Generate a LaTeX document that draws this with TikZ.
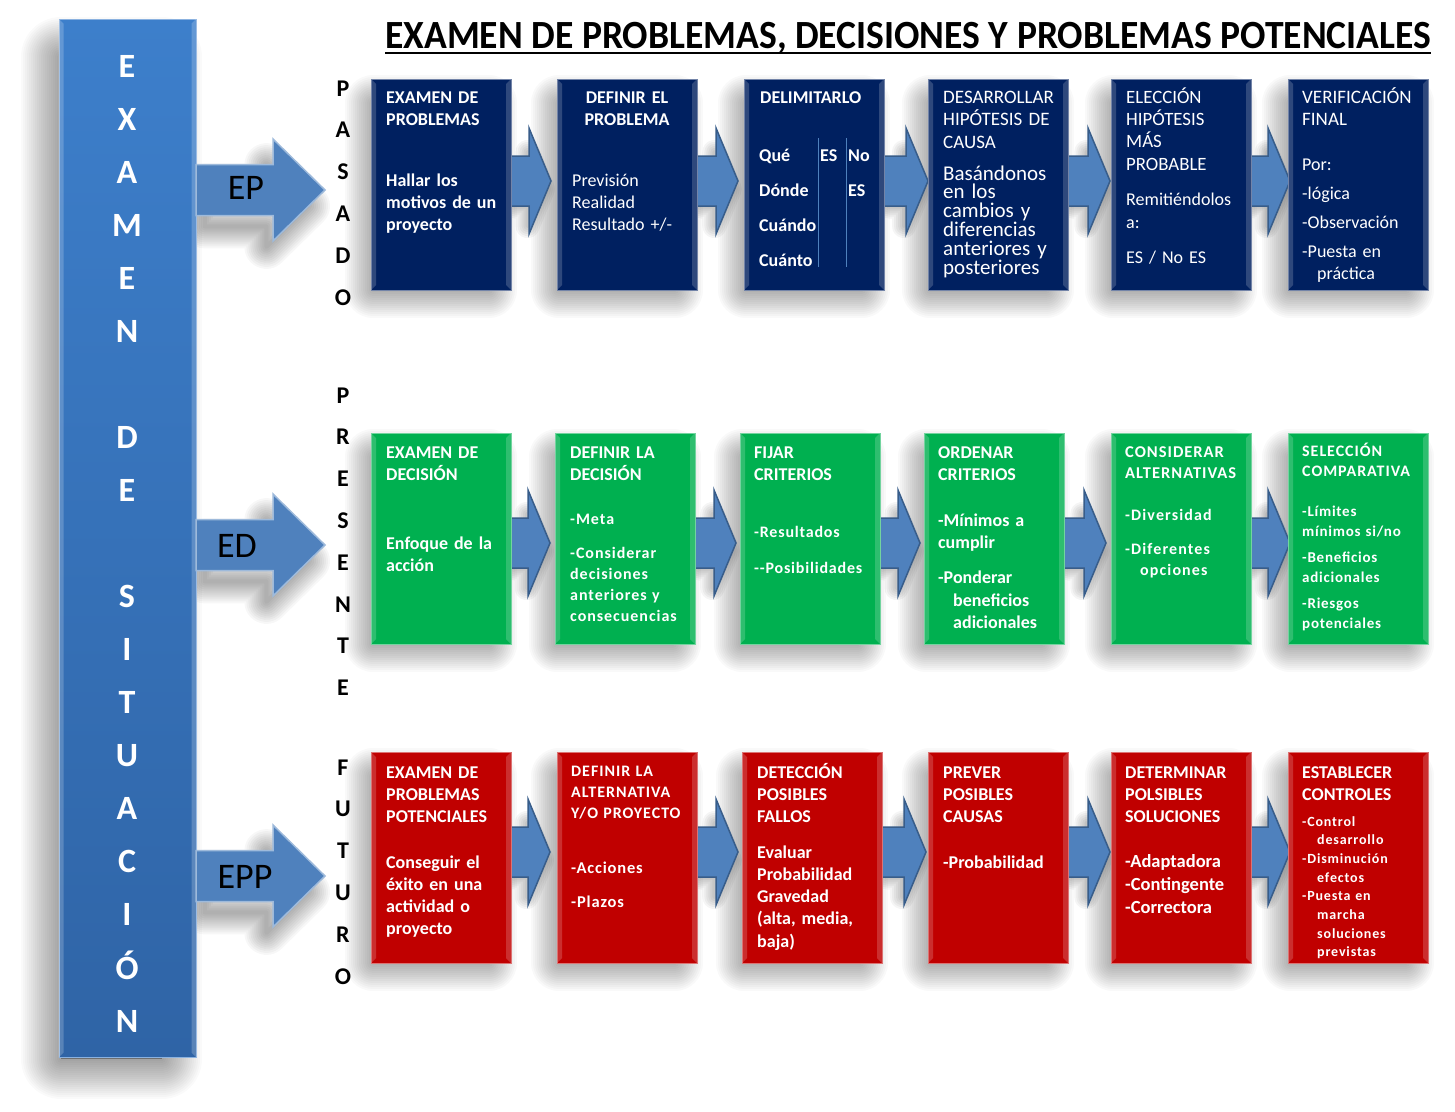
\documentclass[tikz,border=0pt]{standalone}
\usepackage{fontspec}
\setmainfont{Carlito}
\usetikzlibrary{calc}
\pgfdeclarelayer{bgw}
\pgfdeclarelayer{bg}
\pgfsetlayers{bgw,bg,main}
\definecolor{navyb}{HTML}{002060}
\definecolor{greenb}{HTML}{00B050}
\definecolor{redb}{HTML}{C00000}
\definecolor{arrf}{HTML}{4F81BD}
\definecolor{arrd}{HTML}{385D8A}
\definecolor{bartop}{HTML}{3D7FCB}
\definecolor{barbot}{HTML}{2F64A6}
\newcommand\fs[2]{\fontsize{#1}{#2}\selectfont}
\tikzset{
  stepbox/.style={rectangle, minimum width=140pt, minimum height=211pt, inner sep=0pt, fill=#1, draw=#1!55!white, line width=1pt,
    path picture={
      \fill[white,opacity=0.18] (path picture bounding box.north west) -- ++(5,5) -- ([shift={(5,-5)}]path picture bounding box.south west) -- (path picture bounding box.south west) -- cycle;
      \fill[white,opacity=0.18] (path picture bounding box.north east) -- ++(-5,5) -- ([shift={(-5,-5)}]path picture bounding box.south east) -- (path picture bounding box.south east) -- cycle;
    }},
  tx/.style={anchor=base west, inner sep=0pt, text width=136pt, align=left, text=white},
  vl/.style={anchor=base, inner sep=0pt, text width=40pt, align=center, text=black, font=\fs{24}{41.8}\bfseries},
  arr/.style={fill=arrf, draw=arrd, line width=1.5pt, line join=miter},
  bigarr/.style={fill=arrf, draw=arrf!55!white, line width=1.5pt},
  shfill/.style={black, opacity=0.3},
  shline/.style={black, line join=round},
}
% rectangular soft shadow: x1 y1 x2 y2 dx dy inset maxwidth opacity
\newcommand\rshadow[9]{%
  \begin{pgfonlayer}{bg}
    \fill[shfill] (#1+#5+#7,#2+#6+#7) rectangle (#3+#5-#7,#4+#6-#7);
    \foreach \w in {4,8,...,#8} {\draw[shline, opacity=#9, line width=\w pt] (#1+#5+#7,#2+#6+#7) rectangle (#3+#5-#7,#4+#6-#7);}
  \end{pgfonlayer}}
% polygon soft shadow: cx cy dx dy scale maxwidth opacity path
\newcommand\pshadow[8]{%
  \begin{pgfonlayer}{bg}\begin{scope}[shift={({#1+#3},{#2+#4})}, scale=#5, shift={({-(#1)},{-(#2)})}]
    \foreach \w in {4,8,...,#6} {\draw[shline, opacity=#7, line width=\w pt] #8;}
  \end{scope}\end{pgfonlayer}}
% step box: name, cx, cy, colour
\newcommand\mkbox[4]{%
  \rshadow{#2-70}{#3-105.5}{#2+70}{#3+105.5}{-10}{12}{12}{56}{0.025}%
  \node[stepbox=#4] (#1) at (#2,#3) {};}
% small block arrow: x1, x2 (tip), y centre
\newcommand\blk[3]{%
  \pshadow{(#1+#2)/2}{#3}{-2}{8}{0.7}{24}{0.04}{(#1,#3-25) -- (#2-22,#3-25) -- (#2-22,#3-53) -- (#2,#3) -- (#2-22,#3+53) -- (#2-22,#3+25) -- (#1,#3+25) -- cycle}%
  \draw[arr] (#1,#3-25) -- (#2-22,#3-25) -- (#2-22,#3-53) -- (#2,#3) -- (#2-22,#3+53) -- (#2-22,#3+25) -- (#1,#3+25) -- cycle;}
% big arrow: y centre
\newcommand\bigblk[1]{%
  \pshadow{260}{#1}{-4}{16}{0.8}{44}{0.03}{(196,#1-25.5) -- (273,#1-25.5) -- (273,#1-51) -- (325,#1) -- (273,#1+51) -- (273,#1+25.5) -- (196,#1+25.5) -- cycle}%
  \draw[bigarr] (196,#1-25.5) -- (273,#1-25.5) -- (273,#1-51) -- (325,#1) -- (273,#1+51) -- (273,#1+25.5) -- (196,#1+25.5) -- cycle;}
\begin{document}
\begin{tikzpicture}[x=1pt,y=-1pt]
\begin{pgfonlayer}{bgw}
\fill[white] (0,0) rectangle (1455,1111);
\end{pgfonlayer}
\useasboundingbox (0,0) rectangle (1455,1111);

% ---------- left bar ----------
\rshadow{59}{19}{196}{1057}{-16}{20}{18}{80}{0.02}
\node[rectangle, minimum width=137pt, minimum height=1038pt, inner sep=0pt, top color=bartop, bottom color=barbot, draw=bartop!60!white, line width=1pt] (bar) at (127.5,538) {};
\fill[white,opacity=0.2] (bar.north west) -- ++(5,5) -- ([shift={(5,-5)}]bar.south west) -- (bar.south west) -- cycle;
\fill[white,opacity=0.2] (bar.north east) -- ++(-5,5) -- ([shift={(-5,-5)}]bar.south east) -- (bar.south east) -- cycle;
\node[anchor=base, inner sep=0pt, text width=60pt, align=center, text=white, font=\fs{34}{53.06}\bfseries] (bartext) at (127,77)
 {E\\X\\A\\M\\E\\N\\[53.06pt]D\\E\\[53.06pt]S\\I\\T\\U\\A\\C\\I\\Ó\\N};

% ---------- big arrows ----------
\bigblk{190}
\bigblk{545}
\bigblk{876}
\node[anchor=base, inner sep=0pt, font=\fs{36}{40}] (ep) at (246,199) {EP};
\node[anchor=base, inner sep=0pt, font=\fs{36}{40}] (ed) at (237,557) {ED};
\node[anchor=base, inner sep=0pt, font=\fs{36}{40}] (epp) at (245,888) {EPP};

% ---------- vertical labels ----------
\node[vl] (pasado) at (343,96) {P\\A\\S\\A\\D\\O};
\node[vl] (presente) at (343,403) {P\\R\\E\\S\\E\\N\\T\\E};
\node[vl] (futuro) at (343,775) {F\\U\\T\\U\\R\\O};

% ---------- title ----------
\node[anchor=base west, inner sep=0pt, font=\fs{40}{44}\bfseries] (title) at (385,48) {\scalebox{0.94}[1]{EXAMEN DE PROBLEMAS, DECISIONES Y PROBLEMAS POTENCIALES}};
\draw[line width=2.6pt] ([yshift=-5pt]title.base west) -- ([yshift=-5pt]title.base east);

% ---------- small arrows ----------
\blk{511}{551}{181}
\blk{697}{738}{181}
\blk{884}{928}{181}
\blk{1068}{1110}{181}
\blk{1251}{1290}{181}
\blk{511}{550}{543}
\blk{695}{736}{543}
\blk{880}{920}{543}
\blk{1064}{1106}{543}
\blk{1251}{1290}{543}
\blk{511}{550}{852}
\blk{697}{738}{852}
\blk{882}{926}{852}
\blk{1068}{1110}{852}
\blk{1251}{1290}{852}

% ---------- boxes ----------
\mkbox{t1}{441}{184.5}{navyb}
\mkbox{t2}{627}{184.5}{navyb}
\mkbox{t3}{814}{184.5}{navyb}
\mkbox{t4}{998}{184.5}{navyb}
\mkbox{t5}{1181}{184.5}{navyb}
\mkbox{t6}{1358}{184.5}{navyb}
\mkbox{m1}{441}{538.5}{greenb}
\mkbox{m2}{625}{538.5}{greenb}
\mkbox{m3}{810}{538.5}{greenb}
\mkbox{m4}{994}{538.5}{greenb}
\mkbox{m5}{1181}{538.5}{greenb}
\mkbox{m6}{1358}{538.5}{greenb}
\mkbox{b1}{441}{857.5}{redb}
\mkbox{b2}{627}{857.5}{redb}
\mkbox{b3}{812}{857.5}{redb}
\mkbox{b4}{998}{857.5}{redb}
\mkbox{b5}{1181}{857.5}{redb}
\mkbox{b6}{1358}{857.5}{redb}

% ---------- top row text ----------
\node[tx, font=\fs{18}{22}\bfseries] (t1h) at (386,103) {EXAMEN DE\\PROBLEMAS};
\node[tx, font=\fs{18}{22}\bfseries] (t1b) at (386,186) {Hallar los\\motivos de un\\proyecto};
\node[anchor=base, inner sep=0pt, text width=136pt, align=center, text=white, font=\fs{18}{22}\bfseries] (t2h) at (627,103) {DEFINIR EL\\PROBLEMA};
\node[tx, font=\fs{18}{22}] (t2b) at (572,186) {Previsión\\Realidad\\Resultado +/-};
\node[tx, font=\fs{18}{22}\bfseries] (t3h) at (760,103) {DELIMITARLO};
\node[tx, font=\fs{18}{35}\bfseries] (t3a) at (759,161) {Qué\\Dónde\\Cuándo\\Cuánto};
\node[tx, text width=30pt, font=\fs{18}{35}\bfseries] (t3c) at (820,161) {ES};
\node[tx, text width=30pt, font=\fs{18}{35}\bfseries] (t3d) at (848,161) {No\\ES};
\draw[arrf, line width=1.2pt] (818.5,138) coordinate (l1a) -- (818.5,267) coordinate (l1b);
\draw[arrf, line width=1.2pt] (846.5,138) coordinate (l2a) -- (846.5,267) coordinate (l2b);
\node[tx, font=\fs{19}{22.5}] (t4h) at (943,103) {DESARROLLAR\\HIPÓTESIS DE\\CAUSA};
\node[tx, font=\fs{21}{18.8}] (t4b) at (943,180) {Basándonos\\en los\\cambios y\\diferencias\\anteriores y\\posteriores};
\node[tx, font=\fs{18.8}{22.4}] (t5h) at (1126,103) {ELECCIÓN\\HIPÓTESIS\\MÁS\\PROBABLE};
\node[tx, font=\fs{18}{23}] (t5b) at (1126,205) {Remitiéndolos\\a:\\[12pt]ES / No ES};
\node[tx, font=\fs{19}{22}] (t6h) at (1302,103) {VERIFICACIÓN\\FINAL};
\node[tx, font=\fs{18}{29}] (t6b) at (1302,170) {Por:\\-lógica\\-Observación\\-Puesta en\\[-7pt]\hspace*{15pt}práctica};

% ---------- middle row text ----------
\node[tx, font=\fs{18}{22}\bfseries] (m1h) at (386,458) {EXAMEN DE\\DECISIÓN};
\node[tx, font=\fs{18}{22}\bfseries] (m1b) at (386,549) {Enfoque de la\\acción};
\node[tx, font=\fs{18}{22}\bfseries] (m2h) at (570,458) {DEFINIR LA\\DECISIÓN};
\node[tx, font=\fs{16}{21.3}\bfseries\addfontfeature{LetterSpace=6}] (m2b) at (570,524) {-Meta\\[12.7pt]-Considerar\\decisiones\\anteriores y\\consecuencias};
\node[tx, font=\fs{18}{22}\bfseries] (m3h) at (754,458) {FIJAR\\CRITERIOS};
\node[tx, font=\fs{16}{36}\bfseries\addfontfeature{LetterSpace=5}] (m3b) at (754,537) {-Resultados\\-{}-Posibilidades};
\node[tx, font=\fs{18}{22}\bfseries] (m4h) at (938,458) {ORDENAR\\CRITERIOS};
\node[tx, font=\fs{18}{22.5}\bfseries] (m4b) at (938,526) {-Mínimos a\\cumplir\\[12.5pt]-Ponderar\\\hspace*{15pt}beneficios\\\hspace*{15pt}adicionales};
\node[tx, font=\fs{16.5}{21}\bfseries\addfontfeature{LetterSpace=6}] (m5h) at (1125,457) {CONSIDERAR\\ALTERNATIVAS};
\node[tx, font=\fs{16}{21}\bfseries\addfontfeature{LetterSpace=7}] (m5b) at (1125,520) {-Diversidad\\[13pt]-Diferentes\\\hspace*{15pt}opciones};
\node[tx, font=\fs{16}{20}\bfseries\addfontfeature{LetterSpace=6}] (m6h) at (1302,456) {SELECCIÓN\\COMPARATIVA};
\node[tx, font=\fs{15}{20}\bfseries\addfontfeature{LetterSpace=5}] (m6b) at (1302,516) {-Límites\\mínimos si/no\\[6pt]-Beneficios\\adicionales\\[6pt]-Riesgos\\potenciales};

% ---------- bottom row text ----------
\node[tx, font=\fs{18}{22}\bfseries] (b1h) at (386,778) {EXAMEN DE\\PROBLEMAS\\POTENCIALES};
\node[tx, font=\fs{18}{22.3}\bfseries] (b1b) at (386,868) {Conseguir el\\éxito en una\\actividad o\\proyecto};
\node[tx, font=\fs{16}{21}\bfseries\addfontfeature{LetterSpace=6}] (b2h) at (571,776) {DEFINIR LA\\ALTERNATIVA\\Y/O PROYECTO};
\node[tx, font=\fs{16.5}{34}\bfseries\addfontfeature{LetterSpace=5}] (b2b) at (571,873) {-Acciones\\-Plazos};
\node[tx, font=\fs{18}{22}\bfseries] (b3h) at (757,778) {DETECCIÓN\\POSIBLES\\FALLOS};
\node[tx, font=\fs{18}{22.3}\bfseries] (b3b) at (757,858) {Evaluar\\Probabilidad\\Gravedad\\(alta, media,\\baja)};
\node[tx, font=\fs{18}{22}\bfseries] (b4h) at (943,778) {PREVER\\POSIBLES\\CAUSAS};
\node[tx, font=\fs{18}{22}\bfseries] (b4b) at (943,868) {-Probabilidad};
\node[tx, font=\fs{18}{22}\bfseries] (b5h) at (1125,778) {DETERMINAR\\POLSIBLES\\SOLUCIONES};
\node[tx, font=\fs{18.5}{23}\bfseries] (b5b) at (1125,867) {-Adaptadora\\-Contingente\\-Correctora};
\node[tx, font=\fs{18}{22}\bfseries] (b6h) at (1302,778) {ESTABLECER\\CONTROLES};
\node[tx, font=\fs{14}{18.7}\bfseries\addfontfeature{LetterSpace=6}] (b6b) at (1302,826) {-Control\\\hspace*{15pt}desarrollo\\-Disminución\\\hspace*{15pt}efectos\\-Puesta en\\\hspace*{15pt}marcha\\\hspace*{15pt}soluciones\\\hspace*{15pt}previstas};
\end{tikzpicture}
\end{document}
